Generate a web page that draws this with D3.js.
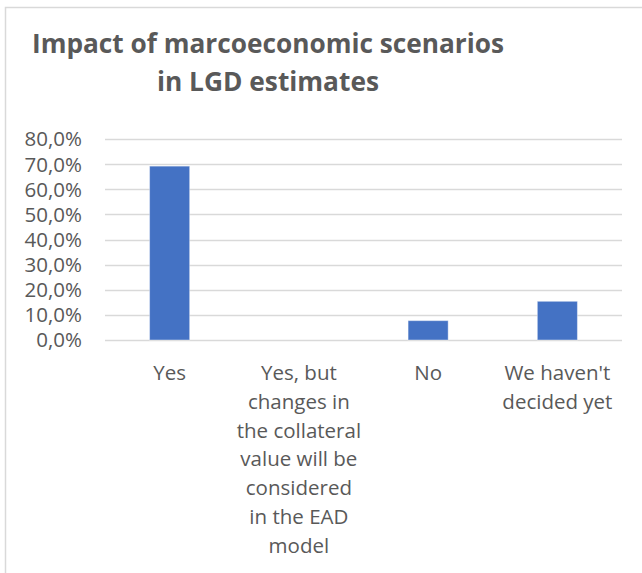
<!DOCTYPE html>
<html>
<head>
<meta charset="utf-8">
<script src="https://cdn.jsdelivr.net/npm/d3@7"></script>
<style>
  html, body { margin: 0; padding: 0; background: #fff; }
  svg text { font-family: 'Open Sans', sans-serif; fill: #595959; }
</style>
</head>
<body>
<div id="chart"></div>
<script>
const titleLines = ['Impact of marcoeconomic scenarios', 'in LGD estimates']
const categories = ['Yes', 'Yes, but changes in the collateral value will be considered in the EAD model', 'No', "We haven't decided yet"]
const categoryLines = [
    ['Yes'],
    ['Yes, but', 'changes in', 'the collateral', 'value will be', 'considered', 'in the EAD', 'model'],
    ['No'],
    ["We haven't", 'decided yet']
]
const values = [0.692, 0, 0.077, 0.154]
const yTicks = [0, 0.1, 0.2, 0.3, 0.4, 0.5, 0.6, 0.7, 0.8]

const width = 642
const height = 573
const margin = {top: 139, right: 20, bottom: 233, left: 105}

const svg = d3.select('#chart').append('svg')
    .attr('width', width)
    .attr('height', height)

// chart frame (runs off the bottom and right of the picture)
svg.append('rect')
    .attr('x', 5.5)
    .attr('y', 7.5)
    .attr('width', width)
    .attr('height', height)
    .attr('fill', 'none')
    .attr('stroke', '#d9d9d9')
    .attr('stroke-width', 1.5)

const titleWidths = [472, 222]
const title = svg.append('text')
    .attr('text-anchor', 'middle')
    .style('font-size', '26px')
    .style('font-weight', 'bold')
titleLines.forEach((t, i) => {
    title.append('tspan')
        .attr('x', 268)
        .attr('y', 53 + i * 38)
        .attr('textLength', titleWidths[i])
        .attr('lengthAdjust', 'spacingAndGlyphs')
        .text(t)
})

const x = d3.scaleBand()
    .domain(categories)
    .range([margin.left, width - margin.right])

const y = d3.scaleLinear()
    .domain([0, 0.8])
    .range([height - margin.bottom, margin.top])

const fmt = v => d3.format('.1%')(v).replace('.', ',')

svg.append('g')
    .selectAll('line')
    .data(yTicks)
    .enter().append('line')
    .attr('x1', margin.left)
    .attr('x2', width - margin.right)
    .attr('y1', d => Math.round(y(d)) + 0.5)
    .attr('y2', d => Math.round(y(d)) + 0.5)
    .attr('stroke', '#d9d9d9')
    .attr('stroke-width', 1.5)

svg.append('g')
    .selectAll('text')
    .data(yTicks)
    .enter().append('text')
    .attr('x', 82)
    .attr('y', d => y(d))
    .attr('dy', '0.36em')
    .attr('text-anchor', 'end')
    .style('font-size', '20.5px')
    .text(fmt)

const barWidth = x.bandwidth() * 0.31
svg.append('g')
    .selectAll('rect')
    .data(values)
    .enter().append('rect')
    .attr('x', (d, i) => x(categories[i]) + (x.bandwidth() - barWidth) / 2)
    .attr('y', d => y(d))
    .attr('width', barWidth)
    .attr('height', d => y(0) - y(d))
    .attr('fill', '#4472c4')
    .attr('stroke', '#ffffff')
    .attr('stroke-opacity', 0.4)

const labels = svg.append('g')
    .selectAll('text')
    .data(categoryLines)
    .enter().append('text')
    .attr('text-anchor', 'middle')
    .style('font-size', '20.5px')
labels.each(function (lines, i) {
    const cx = x(categories[i]) + x.bandwidth() / 2
    lines.forEach((l, j) => {
        d3.select(this).append('tspan')
            .attr('x', cx)
            .attr('y', 380 + j * 28.8)
            .text(l)
    })
})
</script>
</body>
</html>
